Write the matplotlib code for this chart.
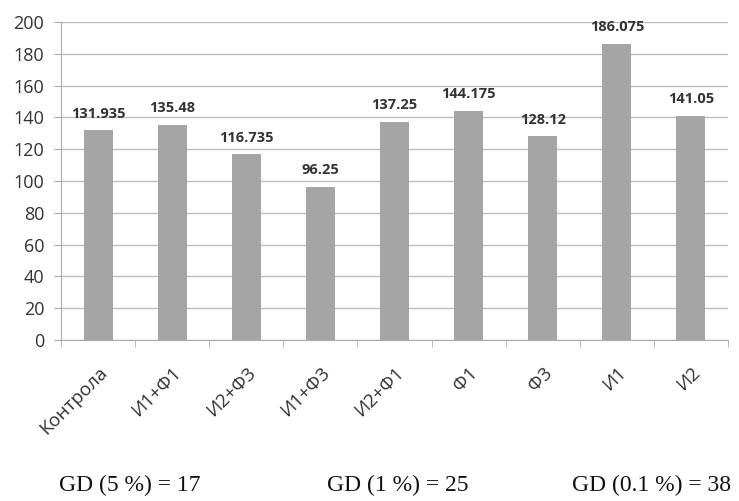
import numpy as np
import matplotlib.pyplot as plt

categories = ["Контрола", "И1+Ф1", "И2+Ф3", "И1+Ф3", "И2+Ф1", "Ф1", "Ф3", "И1", "И2"]
values = [131.935, 135.48, 116.735, 96.25, 137.25, 144.175, 128.12, 186.075, 141.05]
value_labels = ["131.935", "135.48", "116.735", "96.25", "137.25", "144.175", "128.12", "186.075", "141.05"]
gd_texts = ["GD (5 %) = 17", "GD (1 %) = 25", "GD (0.1 %) = 38"]

plt.rcParams['font.family'] = ['Open Sans', 'DejaVu Sans']

fig = plt.figure(figsize=(7.39, 5.01), dpi=100)
ax = fig.add_axes([61/739, 1 - 340/501, (728 - 61)/739, (340 - 22)/501])

x = np.arange(len(categories))
ax.bar(x, values, width=0.39, color="#a5a5a5", zorder=3)

# data labels above bars
for xi, v, lab in zip(x, values, value_labels):
    ax.annotate(lab, (xi, v), xytext=(0, 7), textcoords="offset points",
                ha="center", va="bottom", fontsize=10.5, fontweight="bold", color="#333333")

ax.set_xlim(-0.5, len(categories) - 0.5)
ax.set_ylim(0, 200)
ax.set_yticks(np.arange(0, 201, 20))
ax.yaxis.grid(True, color="#bdbdbd", linewidth=1, zorder=0)
ax.tick_params(axis="y", labelsize=13, colors="#333333", length=5, color="#aaaaaa", pad=7)

ax.set_xticks(x)
ax.set_xticklabels(categories, rotation=45, ha="right", rotation_mode="anchor", fontsize=13.5, color="#333333")
ax.set_xticks(np.arange(-0.5, len(categories), 1), minor=True)
ax.tick_params(axis="x", which="major", length=0, pad=17)
ax.tick_params(axis="x", which="minor", length=5, color="#aaaaaa")

for side in ["top", "right"]:
    ax.spines[side].set_visible(False)
for side in ["left", "bottom"]:
    ax.spines[side].set_color("#aaaaaa")

xs = [130 / 739, 398 / 739, 652 / 739]
for xp, t in zip(xs, gd_texts):
    fig.text(xp, 1 - 485/501, t, ha="center", va="center", fontsize=17,
             family=["Liberation Serif"], color="#111111")

fig.savefig("out.png", dpi=100)
